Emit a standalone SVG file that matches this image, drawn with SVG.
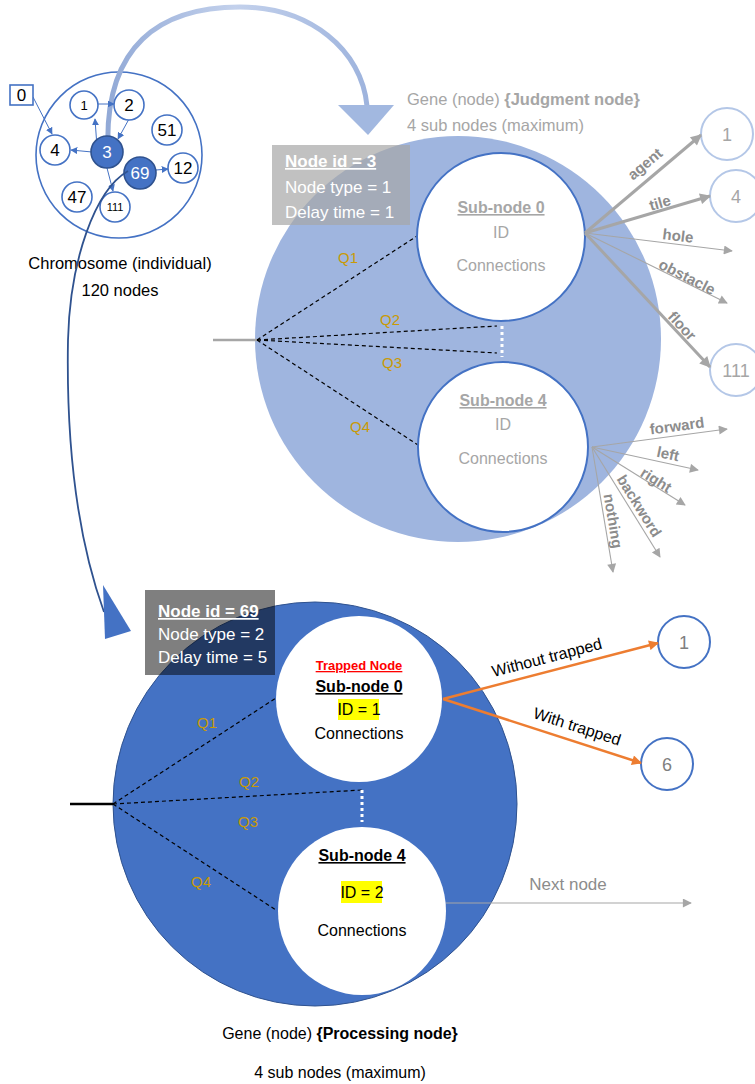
<svg xmlns="http://www.w3.org/2000/svg" width="755" height="1084" viewBox="0 0 755 1084">
  <defs>
    <style>
      text { font-family: "Liberation Sans", Arial, sans-serif; }
      .mid { text-anchor: middle; }
      .cnode { fill: #ffffff; stroke: #4472C4; stroke-width: 1.6; }
      .cfill { fill: #4472C4; stroke: #2F528F; stroke-width: 1.6; }
      .clabel { font-size: 17px; fill: #000000; text-anchor: middle; }
      .blueln { stroke: #4472C4; stroke-width: 1; fill: none; marker-end: url(#mBlue); }
      .qlbl { font-size: 15px; fill: #C99A06; text-anchor: middle; }
      .qdash { stroke: #000000; stroke-width: 1.2; stroke-dasharray: 4 3; fill: none; }
      .gthick { stroke: #A6A6A6; stroke-width: 3; fill: none; marker-end: url(#mGrayThick); }
      .gthin { stroke: #A6A6A6; stroke-width: 1.1; fill: none; marker-end: url(#mGrayThin); }
      .glbl { font-size: 15px; font-weight: bold; fill: #8C8C8C; text-anchor: middle; }
      .orange { stroke: #ED7D31; stroke-width: 2.5; fill: none; marker-end: url(#mOrange); }
      .jsub { fill: #ffffff; stroke: #4472C4; stroke-width: 2; }
      .jtxt { fill: #A6A6A6; text-anchor: middle; font-size: 16px; }
      .ptxt { fill: #000000; text-anchor: middle; font-size: 16px; }
      .boxtxt { fill: #ffffff; font-size: 17px; }
      .outcirc { fill: #ffffff; stroke: #B4C7E7; stroke-width: 2; }
      .outcirc2 { fill: #ffffff; stroke: #4472C4; stroke-width: 2; }
      .outnum { font-size: 18px; text-anchor: middle; }
    </style>
    <marker id="mBlue" viewBox="0 0 10 10" refX="9" refY="5" markerWidth="7" markerHeight="7" markerUnits="userSpaceOnUse" orient="auto">
      <path d="M0,0 L10,5 L0,10 z" fill="#4472C4"/>
    </marker>
    <marker id="mGrayThick" viewBox="0 0 10 10" refX="9" refY="5" markerWidth="13" markerHeight="11" markerUnits="userSpaceOnUse" orient="auto">
      <path d="M0,0 L10,5 L0,10 z" fill="#A6A6A6"/>
    </marker>
    <marker id="mGrayThin" viewBox="0 0 10 10" refX="9" refY="5" markerWidth="12" markerHeight="9" markerUnits="userSpaceOnUse" orient="auto">
      <path d="M0,0 L10,5 L0,10 z" fill="#A6A6A6"/>
    </marker>
    <marker id="mOrange" viewBox="0 0 10 10" refX="9" refY="5" markerWidth="12" markerHeight="10" markerUnits="userSpaceOnUse" orient="auto">
      <path d="M0,0 L10,5 L0,10 z" fill="#ED7D31"/>
    </marker>
    <linearGradient id="arcGrad" x1="100" y1="0" x2="370" y2="0" gradientUnits="userSpaceOnUse">
      <stop offset="0" stop-color="#8FA7D5"/>
      <stop offset="0.5" stop-color="#C3D1EC"/>
      <stop offset="1" stop-color="#9DB3DD"/>
    </linearGradient>
  </defs>

  <!-- Chromosome: outer ring -->
  <g id="chromosome">
    <circle cx="119" cy="155" r="83" fill="none" stroke="#4472C4" stroke-width="1.6"/>
    <text class="mid" x="120" y="269" font-size="16.5" fill="#000">Chromosome (individual)</text>
    <text class="mid" x="120" y="296" font-size="16.5" fill="#000">120 nodes</text>
  </g>

  <!-- light arc from node 3 to the judgment gene -->
  <g id="link-judgment">
    <path d="M108,150 C104,45 160,7 240,7 C310,7 362,50 367,106" fill="none" stroke="url(#arcGrad)" stroke-width="5"/>
    <polygon points="338,105 394,105 368,135" fill="#A2B8E0"/>
  </g>

  <!-- chromosome internal connectors -->
  <g id="chromosome-connectors">
    <line class="blueln" x1="33" y1="97" x2="52" y2="134"/>
    <line class="blueln" x1="98" y1="104" x2="114" y2="104"/>
    <line class="blueln" x1="97" y1="147" x2="95" y2="119"/>
    <line class="blueln" x1="129" y1="119" x2="118" y2="139"/>
    <line class="blueln" x1="92" y1="152" x2="71" y2="150"/>
    <line class="blueln" x1="107" y1="168" x2="113" y2="191"/>
    <line class="blueln" x1="156" y1="170" x2="168" y2="169"/>
  </g>

  <g id="c-node-0"><rect x="10" y="85" width="23" height="20" fill="#fff" stroke="#4472C4" stroke-width="1.6"/><text class="clabel" x="21.5" y="101">0</text></g>
  <g id="c-node-1"><circle class="cnode" cx="84" cy="105" r="14"/><text class="mid" x="84" y="110" font-size="13" fill="#000">1</text></g>
  <g id="c-node-2"><circle class="cnode" cx="129" cy="105" r="15"/><text class="clabel" x="129" y="111">2</text></g>
  <g id="c-node-51"><circle class="cnode" cx="167" cy="130" r="15"/><text class="clabel" x="167" y="136">51</text></g>
  <g id="c-node-4"><circle class="cnode" cx="55" cy="150" r="15"/><text class="clabel" x="55" y="156">4</text></g>
  <g id="c-node-3"><circle class="cfill" cx="107" cy="152" r="16"/><text class="mid" x="107" y="158" font-size="17" fill="#fff">3</text></g>
  <g id="c-node-47"><circle class="cnode" cx="77" cy="197" r="15"/><text class="clabel" x="77" y="203">47</text></g>
  <g id="c-node-111"><circle class="cnode" cx="115" cy="207" r="15"/><text class="mid" x="115" y="211" font-size="11" fill="#000">111</text></g>
  <g id="c-node-12"><circle class="cnode" cx="183" cy="168" r="15"/><text class="clabel" x="183" y="174">12</text></g>
  <g id="c-node-69"><circle class="cfill" cx="140" cy="173" r="16"/><text class="mid" x="140" y="179" font-size="17" fill="#fff">69</text></g>

  <!-- dark curve from node 69 to the processing gene -->
  <g id="link-processing">
    <path d="M128,171 C95,190 70,260 68,340 C66,450 78,540 104,612" fill="none" stroke="#2F528F" stroke-width="1.8"/>
    <polygon points="103,585 105,639 131,631" fill="#4472C4"/>
  </g>

  <!-- Judgment gene -->
  <g id="judgment-node">
    <text x="407" y="105" font-size="16.5" fill="#A6A6A6">Gene (node) <tspan font-weight="bold">{Judgment node}</tspan></text>
    <text x="407" y="131" font-size="16.5" fill="#A6A6A6">4 sub nodes (maximum)</text>
    <circle cx="458" cy="339" r="203" fill="#9FB5DF"/>
    <rect x="272" y="145" width="138" height="80" fill="#A6A6A6" fill-opacity="0.7"/>
    <text class="boxtxt" x="285" y="167" font-weight="bold" text-decoration="underline">Node id = 3</text>
    <text class="boxtxt" x="285" y="193">Node type = 1</text>
    <text class="boxtxt" x="285" y="218">Delay time = 1</text>
  </g>

  <g id="judgment-connectors">
    <line x1="213" y1="340" x2="257" y2="340" stroke="#A6A6A6" stroke-width="2.5"/>
    <line class="qdash" x1="257" y1="340" x2="417" y2="236"/>
    <line class="qdash" x1="257" y1="340" x2="497" y2="326"/>
    <line class="qdash" x1="257" y1="340" x2="497" y2="353"/>
    <line class="qdash" x1="257" y1="340" x2="418" y2="445"/>
    <line x1="502" y1="326" x2="502" y2="357" stroke="#ffffff" stroke-width="3" stroke-dasharray="3 3"/>
    <text class="qlbl" x="348" y="263">Q1</text>
    <text class="qlbl" x="390" y="325">Q2</text>
    <text class="qlbl" x="392" y="368">Q3</text>
    <text class="qlbl" x="360" y="432">Q4</text>
  </g>

  <g id="j-subnode-0">
    <circle class="jsub" cx="501" cy="237" r="84"/>
    <text class="jtxt" x="501" y="213" font-size="14" font-weight="bold" text-decoration="underline">Sub-node 0</text>
    <text class="jtxt" x="501" y="238">ID</text>
    <text class="jtxt" x="501" y="271">Connections</text>
  </g>
  <g id="j-subnode-4">
    <circle class="jsub" cx="503" cy="447" r="85"/>
    <text class="jtxt" x="503" y="406" font-size="14" font-weight="bold" text-decoration="underline">Sub-node 4</text>
    <text class="jtxt" x="503" y="430">ID</text>
    <text class="jtxt" x="503" y="464">Connections</text>
  </g>

  <!-- judgment outputs -->
  <g id="j-out-1"><circle class="outcirc" cx="727" cy="134" r="26"/><text class="outnum" x="727" y="141" fill="#A6A6A6">1</text></g>
  <g id="j-out-4"><circle class="outcirc" cx="736" cy="196" r="26"/><text class="outnum" x="736" y="203" fill="#A6A6A6">4</text></g>
  <g id="j-out-111"><circle class="outcirc" cx="736" cy="370" r="26"/><text class="outnum" x="736" y="377" fill="#A6A6A6">111</text></g>

  <g id="judgment-outputs">
    <line class="gthick" x1="585" y1="233" x2="701" y2="135"/>
    <line class="gthick" x1="585" y1="233" x2="710" y2="196"/>
    <line class="gthin" x1="585" y1="233" x2="732" y2="251"/>
    <line class="gthin" x1="585" y1="233" x2="727" y2="303"/>
    <line class="gthick" x1="585" y1="233" x2="710" y2="367"/>
    <text class="glbl" transform="translate(645,164) rotate(-40)" y="5">agent</text>
    <text class="glbl" transform="translate(660,203) rotate(-16)" y="5">tile</text>
    <text class="glbl" transform="translate(678,236) rotate(7)" y="5">hole</text>
    <text class="glbl" transform="translate(687,277) rotate(27)" y="5">obstacle</text>
    <text class="glbl" transform="translate(682,326) rotate(47)" y="5">floor</text>

    <line class="gthin" x1="592" y1="447" x2="727" y2="429"/>
    <line class="gthin" x1="592" y1="447" x2="698" y2="470"/>
    <line class="gthin" x1="592" y1="447" x2="685" y2="505"/>
    <line class="gthin" x1="592" y1="447" x2="660" y2="557"/>
    <line class="gthin" x1="592" y1="447" x2="613" y2="572"/>
    <text class="glbl" transform="translate(677,426) rotate(-7.6)" y="5">forward</text>
    <text class="glbl" transform="translate(668,454) rotate(12)" y="5">left</text>
    <text class="glbl" transform="translate(656,480) rotate(32)" y="5">right</text>
    <text class="glbl" transform="translate(639,506) rotate(58)" y="5">backword</text>
    <text class="glbl" transform="translate(613,521) rotate(80.5)" y="5">nothing</text>
  </g>

  <!-- Processing gene -->
  <g id="processing-node">
    <circle cx="315" cy="804" r="202" fill="#4472C4" stroke="#2F528F" stroke-width="1"/>
    <rect x="145" y="590" width="130" height="85" fill="#000000" fill-opacity="0.5"/>
    <text class="boxtxt" x="158" y="617" font-size="16" font-weight="bold" text-decoration="underline">Node id = 69</text>
    <text class="boxtxt" x="158" y="640" font-size="16">Node type = 2</text>
    <text class="boxtxt" x="158" y="663" font-size="16">Delay time = 5</text>
    <text class="mid" x="340" y="1039" font-size="16" fill="#000">Gene (node) <tspan font-weight="bold">{Processing node}</tspan></text>
    <text class="mid" x="340" y="1078" font-size="16" fill="#000">4 sub nodes (maximum)</text>
  </g>

  <g id="processing-connectors">
    <line x1="70" y1="804" x2="113" y2="804" stroke="#000" stroke-width="2.5"/>
    <line class="qdash" x1="113" y1="804" x2="276" y2="698"/>
    <line class="qdash" x1="113" y1="804" x2="362" y2="790"/>
    <line class="qdash" x1="113" y1="804" x2="276" y2="910"/>
    <line x1="362" y1="790" x2="362" y2="822" stroke="#ffffff" stroke-width="3" stroke-dasharray="3 3"/>
    <text class="qlbl" x="207" y="728">Q1</text>
    <text class="qlbl" x="249" y="787">Q2</text>
    <text class="qlbl" x="248" y="827">Q3</text>
    <text class="qlbl" x="201" y="887">Q4</text>
  </g>

  <g id="p-subnode-0">
    <circle cx="359" cy="699" r="83" fill="#ffffff"/>
    <text class="mid" x="359" y="670" font-size="13" font-weight="bold" fill="#FF0000" text-decoration="underline">Trapped Node</text>
    <text class="ptxt" x="359" y="692" font-size="14.5" font-weight="bold" text-decoration="underline">Sub-node 0</text>
    <rect x="338" y="699" width="41" height="21" fill="#FFFF00"/>
    <text class="ptxt" x="359" y="715">ID = 1</text>
    <text class="ptxt" x="359" y="739">Connections</text>
  </g>
  <g id="p-subnode-4">
    <circle cx="362" cy="911" r="84" fill="#ffffff"/>
    <text class="ptxt" x="362" y="861" font-size="14.5" font-weight="bold" text-decoration="underline">Sub-node 4</text>
    <rect x="341" y="881" width="41" height="22" fill="#FFFF00"/>
    <text class="ptxt" x="362" y="898">ID = 2</text>
    <text class="ptxt" x="362" y="936">Connections</text>
  </g>

  <g id="p-out-1"><circle class="outcirc2" cx="684" cy="642" r="26"/><text class="outnum" x="684" y="649" fill="#7F7F7F">1</text></g>
  <g id="p-out-6"><circle class="outcirc2" cx="667" cy="764" r="26"/><text class="outnum" x="667" y="771" fill="#7F7F7F">6</text></g>

  <g id="processing-outputs">
    <line class="orange" x1="443" y1="699" x2="658" y2="643"/>
    <line class="orange" x1="443" y1="699" x2="641" y2="763"/>
    <text class="mid" transform="translate(547,658) rotate(-14.6)" y="5" font-size="16" fill="#000">Without trapped</text>
    <text class="mid" transform="translate(577,727) rotate(17.9)" y="5" font-size="16" fill="#000">With trapped</text>
    <line class="gthin" x1="446" y1="903" x2="691" y2="903"/>
    <text class="mid" x="568" y="890" font-size="17" fill="#8C8C8C">Next node</text>
  </g>
</svg>
